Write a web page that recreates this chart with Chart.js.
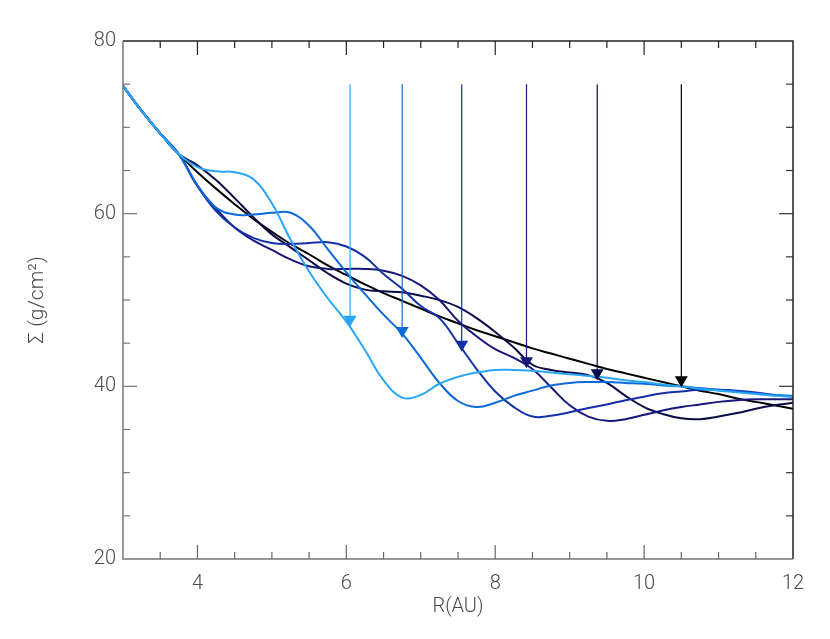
<!DOCTYPE html>
<html>
<head>
<meta charset="utf-8">
<script src="https://cdn.jsdelivr.net/npm/chart.js@4.4.0/dist/chart.umd.min.js"></script>
<style>
    html, body { margin: 0; padding: 0; background: #ffffff; }
    #wrap { width: 830px; height: 639px; }
</style>
</head>
<body>
<div id="wrap"><canvas id="sigmaGraph" width="830" height="639"></canvas></div>
<script>
// radius grid (AU)
const radius = [3, 3.25, 3.5, 3.75, 4, 4.25, 4.5, 4.75, 5, 5.25, 5.5, 5.75, 6, 6.25, 6.5, 6.75, 7, 7.25, 7.5,
    7.75, 8, 8.25, 8.5, 8.75, 9, 9.25, 9.5, 9.75, 10, 10.25, 10.5, 10.75, 11, 11.25, 11.5, 11.75, 12];

// surface density (g/cm^2) for each run
const sigmaLight = [74.8, 71.9, 69.3, 66.9, 65.4, 64.9, 64.8, 64.0, 61.2, 57.0, 53.3, 50.2, 47.5, 44.2, 40.7, 38.7,
    39.0, 40.3, 41.1, 41.6, 41.9, 41.9, 41.8, 41.6, 41.4, 41.2, 41.0, 40.7, 40.5, 40.2, 40.0, 39.7, 39.5, 39.3, 39.1, 38.9, 38.8];
const sigmaMedium = [74.8, 71.9, 69.3, 66.9, 63.3, 60.7, 59.9, 59.9, 60.1, 60.1, 58.6, 55.9, 53.2, 50.7, 48.3, 46.1,
    43.3, 40.4, 38.3, 37.6, 38.1, 38.9, 39.5, 40.1, 40.4, 40.5, 40.5, 40.4, 40.3, 40.1, 40.0, 39.8, 39.6, 39.4, 39.2, 39.0, 38.9];
const sigmaBlue = [74.8, 71.9, 69.3, 66.9, 63.2, 60.3, 58.4, 57.2, 56.6, 56.5, 56.6, 56.7, 56.2, 55.0, 53.0, 51.3,
    49.3, 47.9, 45.0, 42.0, 39.4, 37.6, 36.5, 36.6, 37.0, 37.5, 37.9, 38.4, 38.8, 39.2, 39.4, 39.6, 39.6, 39.5, 39.3, 39.0, 38.8];
const sigmaIndigo = [74.8, 71.9, 69.3, 66.9, 63.2, 60.6, 58.4, 56.9, 55.8, 54.7, 53.9, 53.6, 53.6, 53.6, 53.4, 52.8,
    51.7, 50.0, 47.6, 45.8, 44.3, 43.3, 42.0, 39.9, 37.8, 36.5, 36.0, 36.2, 36.7, 37.2, 37.6, 37.9, 38.2, 38.4, 38.5, 38.5, 38.5];
const sigmaNavy = [74.8, 71.9, 69.3, 66.9, 65.6, 63.9, 61.8, 59.6, 57.6, 56.1, 54.6, 53.1, 51.9, 51.2, 51.0, 50.9,
    50.5, 50.0, 49.2, 47.9, 46.3, 44.5, 42.5, 41.9, 41.6, 41.3, 40.4, 38.9, 37.6, 36.8, 36.3, 36.2, 36.5, 36.9, 37.4, 37.8, 38.1];
const sigmaBlack = [74.8, 71.9, 69.3, 66.9, 64.8, 62.9, 61.1, 59.4, 57.9, 56.5, 55.3, 54.0, 52.9, 51.8, 50.8, 49.9,
    49.0, 48.1, 47.3, 46.5, 45.8, 45.1, 44.4, 43.8, 43.2, 42.6, 42.0, 41.5, 41.0, 40.5, 40.0, 39.5, 39.1, 38.6, 38.2, 37.8, 37.4];

// planet positions (arrows)
const arrowX = [6.05, 6.75, 7.55, 8.42, 9.37, 10.5];
const arrowTip = [46.9, 45.6, 44.0, 42.1, 40.7, 39.9];
const arrowTop = 75;

const runColors = ['#2aa6f6', '#0b6ad8', '#1432a6', '#17177a', '#0b0b4a', '#000000'];

const xTicks = [4, 6, 8, 10, 12];
const yTicks = [20, 40, 60, 80];

function toPoints(xs, ys) {
    return xs.map(function (x, i) { return {x: x, y: ys[i]}; });
}

const series = [sigmaLight, sigmaMedium, sigmaBlue, sigmaIndigo, sigmaNavy, sigmaBlack];
let datasets = [];
series.forEach(function (s, i) {
    datasets.push({
        data: toPoints(radius, s),
        borderColor: runColors[i],
        borderWidth: 2,
        pointRadius: 0,
        tension: 0.4,
        fill: false,
    });
});

// box, inward ticks, planet arrows
const framePlugin = {
    id: 'frame',
    afterDatasetsDraw: function (chart) {
        const ctx = chart.ctx;
        const xs = chart.scales.x, ys = chart.scales.y;
        const a = chart.chartArea;

        // arrows
        arrowX.forEach(function (ax, i) {
            const px = xs.getPixelForValue(ax);
            const top = ys.getPixelForValue(arrowTop);
            const tip = ys.getPixelForValue(arrowTip[i]);
            ctx.save();
            ctx.strokeStyle = runColors[i];
            ctx.fillStyle = runColors[i];
            ctx.lineWidth = 1.2;
            ctx.beginPath();
            ctx.moveTo(px, top);
            ctx.lineTo(px, tip - 10);
            ctx.stroke();
            ctx.beginPath();
            ctx.moveTo(px, tip);
            ctx.lineTo(px - 6.5, tip - 11);
            ctx.lineTo(px + 6.5, tip - 11);
            ctx.closePath();
            ctx.fill();
            ctx.restore();
        });

        ctx.save();
        ctx.lineWidth = 1.5;
        // top and right
        ctx.strokeStyle = '#222222';
        ctx.beginPath();
        ctx.moveTo(a.left, a.top);
        ctx.lineTo(a.right, a.top);
        ctx.lineTo(a.right, a.bottom);
        ctx.stroke();
        // left and bottom
        ctx.strokeStyle = '#777777';
        ctx.beginPath();
        ctx.moveTo(a.left, a.top);
        ctx.lineTo(a.left, a.bottom);
        ctx.lineTo(a.right, a.bottom);
        ctx.stroke();

        ctx.lineWidth = 1.2;
        for (let v = 3.5; v < 12; v += 0.5) {
            const px = xs.getPixelForValue(v);
            const len = (v % 2 === 0) ? 14 : 7;
            ctx.strokeStyle = '#666666';
            ctx.beginPath();
            ctx.moveTo(px, a.bottom);
            ctx.lineTo(px, a.bottom - len);
            ctx.stroke();
            ctx.strokeStyle = '#222222';
            ctx.beginPath();
            ctx.moveTo(px, a.top);
            ctx.lineTo(px, a.top + len);
            ctx.stroke();
        }
        for (let v = 25; v < 80; v += 5) {
            const py = ys.getPixelForValue(v);
            const len = (v % 20 === 0) ? 14 : 7;
            ctx.strokeStyle = '#777777';
            ctx.beginPath();
            ctx.moveTo(a.left, py);
            ctx.lineTo(a.left + len, py);
            ctx.stroke();
            ctx.strokeStyle = '#333333';
            ctx.beginPath();
            ctx.moveTo(a.right, py);
            ctx.lineTo(a.right - len, py);
            ctx.stroke();
        }
        ctx.restore();
    }
};

const labelFont = {family: 'Roboto', size: 20, weight: '300'};

const config = {
    type: 'line',
    data: {datasets: datasets},
    plugins: [framePlugin],
    options: {
        responsive: false,
        animation: false,
        events: [],
        layout: {
            padding: {left: 0, right: 37, top: 41, bottom: 0}
        },
        plugins: {
            legend: {display: false},
            tooltip: {enabled: false},
        },
        scales: {
            x: {
                type: 'linear',
                min: 3,
                max: 12,
                afterBuildTicks: function (scale) {
                    scale.ticks = xTicks.map(function (v) { return {value: v}; });
                },
                afterFit: function (scale) {
                    scale.height = 80;
                },
                grid: {display: false, drawTicks: false},
                border: {display: false},
                ticks: {
                    color: '#4a4a4a',
                    font: labelFont,
                    padding: 13,
                    maxRotation: 0,
                    autoSkip: false,
                },
                title: {
                    display: true,
                    text: 'R(AU)',
                    color: '#4a4a4a',
                    font: labelFont,
                    padding: {top: 0, bottom: 20},
                },
            },
            y: {
                type: 'linear',
                min: 20,
                max: 80,
                afterBuildTicks: function (scale) {
                    scale.ticks = yTicks.map(function (v) { return {value: v}; });
                },
                afterFit: function (scale) {
                    scale.width = 123;
                },
                grid: {display: false, drawTicks: false},
                border: {display: false},
                ticks: {
                    color: '#4a4a4a',
                    font: labelFont,
                    padding: 7,
                    autoSkip: false,
                },
                title: {
                    display: true,
                    text: 'Σ (g/cm²)',
                    color: '#4a4a4a',
                    font: {family: 'Roboto', size: 21, weight: '300'},
                    padding: {top: 25, bottom: 0},
                },
            },
        }
    }
};

let ctx = document.getElementById('sigmaGraph');
let sigmaChart = new Chart(ctx, config);
</script>
</body>
</html>
